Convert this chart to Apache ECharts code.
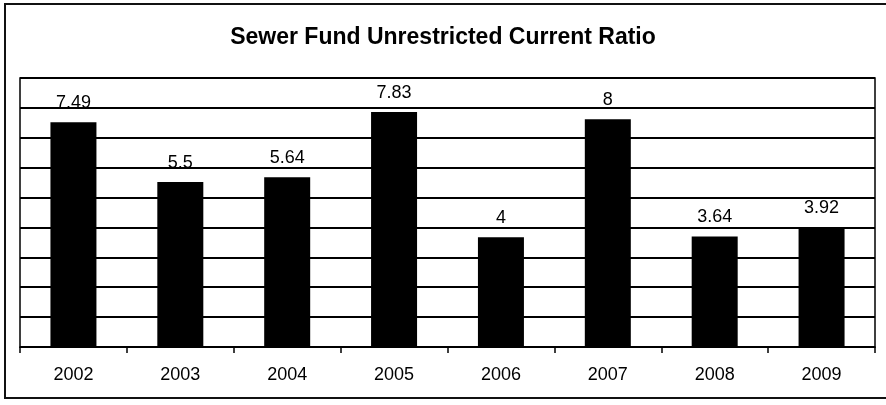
<!DOCTYPE html>
<html>
<head>
<meta charset="utf-8">
<script src="https://cdn.jsdelivr.net/npm/echarts@6/dist/echarts.min.js"></script>
<style>
html,body{margin:0;padding:0;background:#fff;}
#chart{width:886px;height:405px;}
</style>
</head>
<body>
<div id="chart"></div>
<script>
var titleText = 'Sewer Fund Unrestricted Current Ratio';
var categories = ['2002','2003','2004','2005','2006','2007','2008','2009'];
var barValues = [7.52, 5.52, 5.68, 7.86, 3.67, 7.62, 3.70, 4.0];
var labelTexts = ['7.49','5.5','5.64','7.83','4','8','3.64','3.92'];
var yMin = 0, yMax = 9, yStep = 1;

var chart = echarts.init(document.getElementById('chart'), null, {renderer:'canvas'});
var FONT = '"Liberation Sans", Arial, sans-serif';
chart.setOption({
  animation: false,
  backgroundColor: '#fff',
  title: {
    text: titleText,
    left: 'center',
    top: 21,
    textStyle: {fontFamily: FONT, fontSize: 23, fontWeight: 'bold', color: '#000'}
  },
  graphic: [{
    type: 'rect',
    shape: {x: 5, y: 4, width: 900, height: 394},
    style: {fill: 'none', stroke: '#111', lineWidth: 2},
    silent: true
  }],
  grid: {
    left: 20, right: 11, top: 78, bottom: 58,
    show: true, borderColor: '#000', borderWidth: 1.5, backgroundColor: '#fff'
  },
  xAxis: {
    type: 'category',
    data: categories,
    axisLine: {lineStyle: {color: '#000', width: 1.5}},
    axisTick: {show: true, length: 6, lineStyle: {color: '#000', width: 1.5}},
    axisLabel: {fontFamily: FONT, fontSize: 18, color: '#000', margin: 19}
  },
  yAxis: {
    type: 'value',
    min: yMin, max: yMax, interval: yStep,
    axisLine: {show: false},
    axisTick: {show: false},
    axisLabel: {show: false},
    splitLine: {lineStyle: {color: '#000', width: 2}}
  },
  series: [{
    type: 'bar',
    data: barValues,
    barWidth: 46,
    itemStyle: {color: '#000'},
    label: {
      show: true,
      position: 'top',
      distance: 10,
      fontFamily: FONT,
      fontSize: 18,
      color: '#000',
      formatter: function (p) { return labelTexts[p.dataIndex]; }
    }
  }]
});
</script>
</body>
</html>
